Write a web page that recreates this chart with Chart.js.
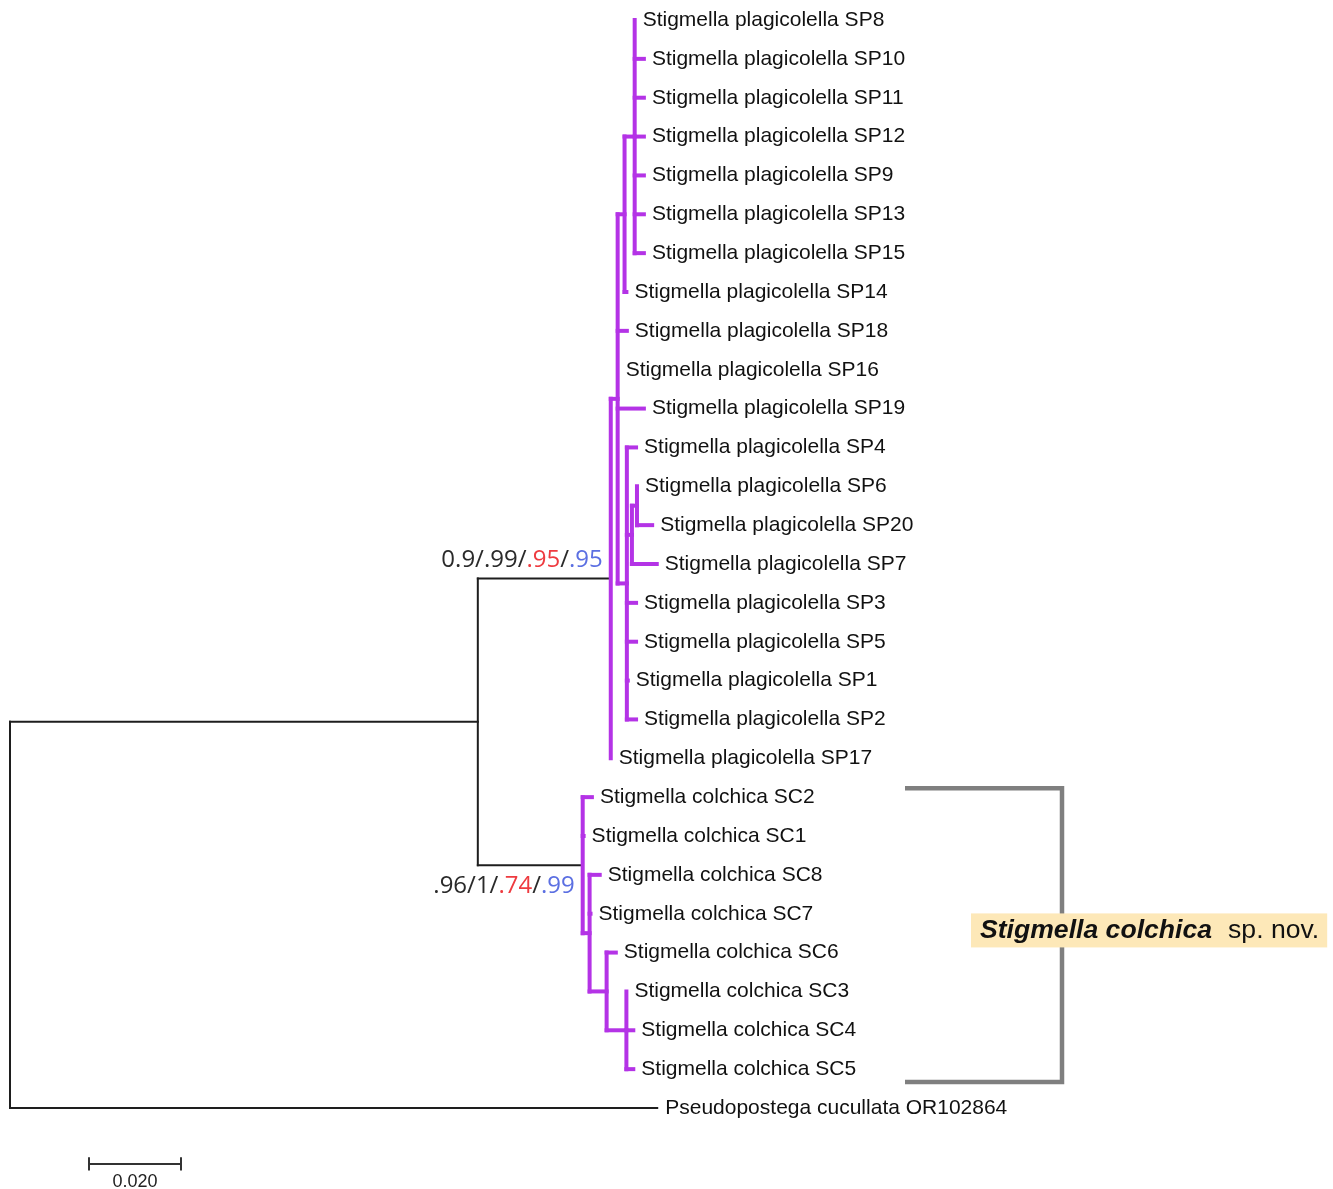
<!DOCTYPE html>
<html>
<head>
<meta charset="utf-8">
<script src="https://cdn.jsdelivr.net/npm/chart.js@4.4.0/dist/chart.umd.min.js"></script>
<style>
  html, body { margin: 0; padding: 0; background: #fff; }
  canvas { display: block; }
</style>
</head>
<body>
<canvas id="treeChart" width="1333" height="1189"></canvas>
<script>
// Tip labels, top to bottom
const taxa = [
  'Stigmella plagicolella SP8', 'Stigmella plagicolella SP10', 'Stigmella plagicolella SP11',
  'Stigmella plagicolella SP12', 'Stigmella plagicolella SP9', 'Stigmella plagicolella SP13',
  'Stigmella plagicolella SP15', 'Stigmella plagicolella SP14', 'Stigmella plagicolella SP18',
  'Stigmella plagicolella SP16', 'Stigmella plagicolella SP19', 'Stigmella plagicolella SP4',
  'Stigmella plagicolella SP6', 'Stigmella plagicolella SP20', 'Stigmella plagicolella SP7',
  'Stigmella plagicolella SP3', 'Stigmella plagicolella SP5', 'Stigmella plagicolella SP1',
  'Stigmella plagicolella SP2', 'Stigmella plagicolella SP17',
  'Stigmella colchica SC2', 'Stigmella colchica SC1', 'Stigmella colchica SC8',
  'Stigmella colchica SC7', 'Stigmella colchica SC6', 'Stigmella colchica SC3',
  'Stigmella colchica SC4', 'Stigmella colchica SC5',
  'Pseudopostega cucullata OR102864'
];
// parent node of each tip and its branch length
const tipParent = ['C8', 'C8', 'C8', 'C8', 'C8', 'C8', 'C8', 'U', 'N1', 'N1', 'N1', 'L', 'H', 'H', 'G',
  'L', 'L', 'L', 'L', 'P', 'C', 'C', 'K', 'K', 'R', 'S', 'S', 'S', 'root'];
const tipLength = [0, 0.002, 0.002, 0.002, 0.002, 0.002, 0.002, 0.0004, 0.002, 0, 0.0057, 0.002, 0, 0.0033, 0.0054,
  0.002, 0.002, 0.0002, 0.002, 0, 0.002, 0.0002, 0.0022, 0.0002, 0.002, 0, 0.0015, 0.0015, 0.1407];

// internal nodes (parents listed before children)
const nodeNames  = ['root', 'A', 'P', 'N1', 'U', 'C8', 'L', 'G', 'H', 'C', 'K', 'R', 'S'];
const nodeParent = [null, 'root', 'A', 'P', 'N1', 'U', 'N1', 'L', 'G', 'A', 'C', 'K', 'R'];
const nodeLength = [0, 0.1017, 0.0289, 0.0015, 0.0015, 0.0022, 0.002, 0.0011, 0.0011, 0.0228, 0.0015, 0.0037, 0.0043];
const cladeNodes = ['P', 'N1', 'U', 'C8', 'L', 'G', 'H', 'C', 'K', 'R', 'S'];

// support values shown on the two main clades
const supportNodes = ['P', 'C'];
const supportValues = [['0.9', '.99', '.95', '.95'], ['.96', '1', '.74', '.99']];

const scaleBarLength = 0.02;
const scaleBarLabel = '0.020';
const bracketTaxa = ['Stigmella colchica SC2', 'Stigmella colchica SC5'];
const speciesName = 'Stigmella colchica';
const speciesSuffix = 'sp. nov.';

// layout
const W = 1333, H = 1189;
const PX_PER_UNIT = 4600;   // 0.020 = 92 px
const ROW_PX = 38.857;
const ROOT_LEFT = 10, FIRST_ROW = 20;
const PURPLE = '#b433e6', BLACK = '#1e1e1e', GREY = '#7f7f7f';
const supportColors = ['#2a2a2a', '#2a2a2a', '#ee3b40', '#5b6fe2'];

// tree geometry
const depth = {}, kids = {}, ypos = {};
nodeNames.forEach((n, i) => {
  kids[n] = [];
  depth[n] = nodeParent[i] ? depth[nodeParent[i]] + nodeLength[i] : 0;
  if (nodeParent[i]) kids[nodeParent[i]].push({ node: n });
});
taxa.forEach((t, i) => kids[tipParent[i]].push({ tip: i }));

function yOf(c) { return c.node !== undefined ? nodeY(c.node) : c.tip; }
function nodeY(n) {
  if (ypos[n] === undefined) {
    const ys = kids[n].map(yOf);
    ypos[n] = (Math.min(...ys) + Math.max(...ys)) / 2;
  }
  return ypos[n];
}

const segments = [];
nodeNames.forEach((n, i) => {
  const ys = kids[n].map(yOf);
  const purple = cladeNodes.includes(n);
  segments.push({ pts: [[depth[n], Math.min(...ys)], [depth[n], Math.max(...ys)]], purple });
  const p = nodeParent[i];
  if (p) segments.push({ pts: [[depth[p], nodeY(n)], [depth[n], nodeY(n)]], purple: cladeNodes.includes(p) });
});
taxa.forEach((t, i) => {
  if (tipLength[i] <= 0) return;
  const p = tipParent[i];
  segments.push({ pts: [[depth[p], i], [depth[p] + tipLength[i], i]], purple: cladeNodes.includes(p) });
});

const datasets = segments.map(s => ({
  type: 'line',
  data: s.pts.map(p => ({ x: p[0], y: p[1] })),
  borderColor: s.purple ? PURPLE : BLACK,
  borderWidth: s.purple ? 4 : 2,
  borderCapStyle: 'square',
  pointRadius: 0,
  fill: false,
  tension: 0
}));

// scale bar
const barRow = taxa.length + 0.44;
const barStart = (89 - ROOT_LEFT) / PX_PER_UNIT;
[[[barStart, barRow], [barStart + scaleBarLength, barRow]],
 [[barStart, barRow - 0.17], [barStart, barRow + 0.17]],
 [[barStart + scaleBarLength, barRow - 0.17], [barStart + scaleBarLength, barRow + 0.17]]
].forEach(pts => datasets.push({
  type: 'line', data: pts.map(p => ({ x: p[0], y: p[1] })),
  borderColor: '#333', borderWidth: 2, pointRadius: 0, borderCapStyle: 'butt'
}));

// bracket for the new species
const bTop = taxa.indexOf(bracketTaxa[0]) - 0.23;
const bBot = taxa.indexOf(bracketTaxa[1]) + 0.33;
const bx0 = (905 - ROOT_LEFT) / PX_PER_UNIT, bx1 = (1062 - ROOT_LEFT) / PX_PER_UNIT;
datasets.push({
  type: 'line',
  data: [{ x: bx0, y: bTop }, { x: bx1, y: bTop }, { x: bx1, y: bBot }, { x: bx0, y: bBot }],
  borderColor: GREY, borderWidth: 4.5, pointRadius: 0, borderJoinStyle: 'miter', borderCapStyle: 'butt'
});

const textPlugin = {
  id: 'treeText',
  afterDatasetsDraw(chart) {
    const ctx = chart.ctx, xs = chart.scales.x, ys = chart.scales.y;
    ctx.save();
    ctx.textBaseline = 'middle';

    // tip labels
    ctx.fillStyle = '#111';
    ctx.font = '21px "Liberation Sans", Arial, sans-serif';
    ctx.textAlign = 'left';
    taxa.forEach((t, i) => {
      const x = xs.getPixelForValue(depth[tipParent[i]] + tipLength[i]) + 8;
      ctx.fillText(t, x, ys.getPixelForValue(i));
    });

    // support values
    ctx.font = '24px "Open Sans", sans-serif';
    supportNodes.forEach((n, k) => {
      const parts = [];
      supportValues[k].forEach((v, j) => {
        if (j) parts.push(['/', supportColors[0]]);
        parts.push([v, supportColors[j]]);
      });
      const total = parts.reduce((s, p) => s + ctx.measureText(p[0]).width, 0);
      let x = xs.getPixelForValue(depth[n]) - 8 - total;
      const y = ys.getPixelForValue(nodeY(n)) + (k === 0 ? -18 : 21);
      parts.forEach(p => {
        ctx.fillStyle = p[1];
        ctx.fillText(p[0], x, y);
        x += ctx.measureText(p[0]).width;
      });
    });

    // scale bar label
    ctx.fillStyle = '#222';
    ctx.font = '18px "Liberation Sans", Arial, sans-serif';
    ctx.textAlign = 'center';
    ctx.fillText(scaleBarLabel, xs.getPixelForValue(barStart + scaleBarLength / 2), ys.getPixelForValue(barRow) + 18);

    // species label with highlight box
    const cy = ys.getPixelForValue(23.43);
    const left = xs.getPixelForValue(bx1) - 82;
    ctx.textAlign = 'left';
    ctx.font = 'italic bold 26.6px "Liberation Sans", Arial, sans-serif';
    const w1 = ctx.measureText(speciesName).width;
    ctx.font = '26.6px "Liberation Sans", Arial, sans-serif';
    const w2 = ctx.measureText(speciesSuffix).width;
    ctx.fillStyle = '#fde8b8';
    ctx.fillRect(left - 9, cy - 17, w1 + 16 + w2 + 17, 34);
    ctx.fillStyle = '#111';
    ctx.font = 'italic bold 26.6px "Liberation Sans", Arial, sans-serif';
    ctx.fillText(speciesName, left, cy);
    ctx.font = '26.6px "Liberation Sans", Arial, sans-serif';
    ctx.fillText(speciesSuffix, left + w1 + 16, cy);
    ctx.restore();
  }
};

new Chart(document.getElementById('treeChart').getContext('2d'), {
  type: 'scatter',
  data: { datasets: datasets },
  options: {
    responsive: false,
    animation: false,
    layout: { padding: 0 },
    plugins: { legend: { display: false }, tooltip: { enabled: false } },
    scales: {
      x: { type: 'linear', display: false, min: -ROOT_LEFT / PX_PER_UNIT, max: (W - ROOT_LEFT) / PX_PER_UNIT },
      y: { type: 'linear', display: false, reverse: true, min: -FIRST_ROW / ROW_PX, max: (H - FIRST_ROW) / ROW_PX }
    }
  },
  plugins: [textPlugin]
});
</script>
</body>
</html>
